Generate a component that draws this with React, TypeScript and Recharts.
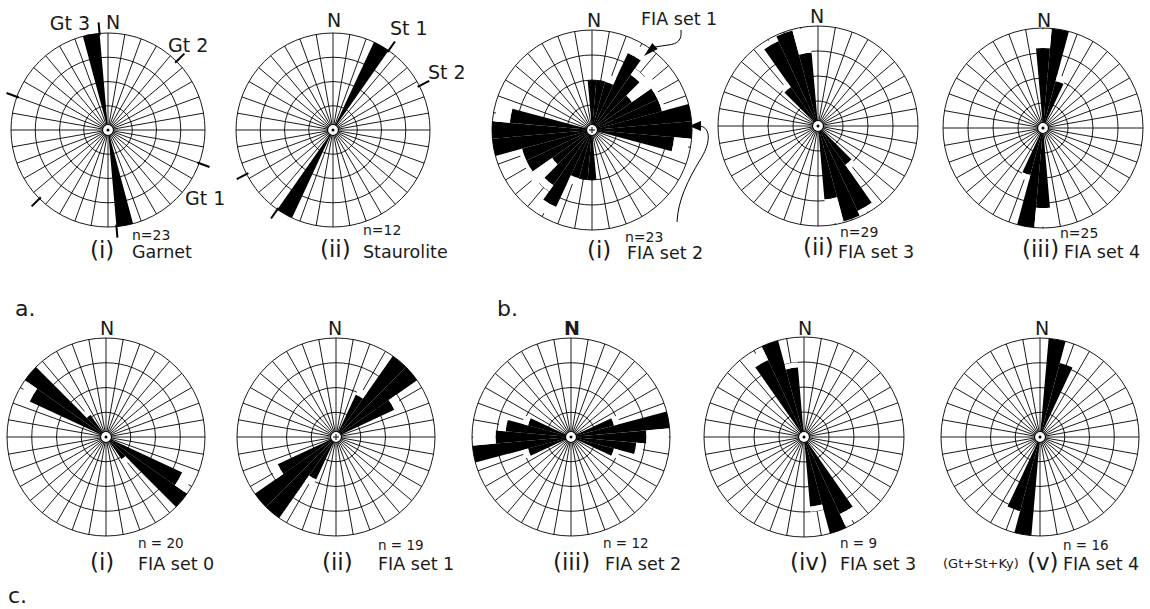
import { PolarAngleAxis, PolarGrid, PolarRadiusAxis, RadialBar, RadialBarChart } from 'recharts'

// bin starts in degrees from N; the data is axial, so every bin is repeated at +180
const binStarts = [0, 10, 20, 30, 40, 50, 60, 70, 80, 90, 100, 110, 120, 130, 140, 150, 160, 170]

// bar lengths in ring units (the grid has 4 rings)
const garnet = [0, 0, 0, 0, 0, 0, 0, 0, 0, 0, 0, 0, 0, 0, 0, 0, 0, 4.1]
const staurolite = [0, 0, 0, 4.05, 0, 0, 0, 0, 0, 0, 0, 0, 0, 0, 0, 0, 0, 0]
const fiaB2 = [2.0, 2.0, 2.0, 3.4, 2.7, 1.95, 2.9, 2.9, 4.0, 4.0, 3.3, 0, 0, 0, 0, 0, 0, 0]
const fiaB3 = [0, 0, 0, 0, 0, 0, 0, 0, 0, 0, 0, 0, 0, 0, 1.9, 3.75, 3.95, 2.95]
const fiaB4 = [3.2, 4.0, 1.95, 0, 0, 0, 0, 0, 0, 0, 0, 0, 0, 0, 0, 0, 0, 0]
const fiaC0 = [0, 0, 0, 0, 0, 0, 0, 0, 0, 0, 0, 0, 3.4, 4.0, 1.1, 0, 0, 0]
const fiaC1 = [0, 0, 0, 1.9, 4.0, 4.0, 2.6, 0, 0, 0, 0, 0, 0, 0, 0, 0, 0, 0]
const fiaC2 = [0, 0, 0, 0, 0, 0, 0, 1.8, 4.0, 3.05, 2.65, 1.8, 0, 0, 0, 0, 0, 0]
const fiaC3 = [0, 0, 0, 0, 0, 0, 0, 0, 0, 0, 0, 0, 0, 0, 0, 3.4, 4.0, 2.8]
const fiaC4 = [0, 4.0, 3.1, 0, 0, 0, 0, 0, 0, 0, 0, 0, 0, 0, 0, 0, 0, 0]

// outer edge of the white gap drawn above some bars (0 = none)
const gapB2 = [0, 0, 2.3, 3.85, 3.0, 3.15, 3.05, 3.05, 0, 0, 3.9, 0, 0, 0, 0, 0, 0, 0]
const gapB3 = [0, 0, 0, 0, 0, 0, 0, 0, 0, 0, 0, 0, 0, 0, 2.15, 3.95, 0, 3.95]
const gapB4 = [3.95, 0, 2.2, 0, 0, 0, 0, 0, 0, 0, 0, 0, 0, 0, 0, 0, 0, 0]
const gapC0 = [0, 0, 0, 0, 0, 0, 0, 0, 0, 0, 0, 0, 3.85, 0, 1.35, 0, 0, 0]
const gapC1 = [0, 0, 0, 2.2, 0, 0, 2.95, 0, 0, 0, 0, 0, 0, 0, 0, 0, 0, 0]
const gapC2 = [0, 0, 0, 0, 0, 0, 0, 2.05, 0, 3.95, 2.95, 2.05, 0, 0, 0, 0, 0, 0]
const gapC3 = [0, 0, 0, 0, 0, 0, 0, 0, 0, 0, 0, 0, 0, 0, 0, 3.85, 0, 3.0]

// trend marks outside the garnet and staurolite roses (bearings)
const garnetTrends = [110, 290, 45, 225, 355, 175]
const stauroliteTrends = [35, 215, 63, 243]

type Rose = {
  cx: number
  cy: number
  r: number
  bars: number[]
  gaps?: number[]
  trends?: number[]
  plus?: boolean
}

const roses: Rose[] = [
  { cx: 108, cy: 130, r: 97, bars: garnet, trends: garnetTrends },
  { cx: 333, cy: 130, r: 97, bars: staurolite, trends: stauroliteTrends },
  { cx: 592, cy: 130, r: 100, bars: fiaB2, gaps: gapB2, plus: true },
  { cx: 818, cy: 126, r: 100, bars: fiaB3, gaps: gapB3 },
  { cx: 1043, cy: 128, r: 100, bars: fiaB4, gaps: gapB4 },
  { cx: 106, cy: 437, r: 99, bars: fiaC0, gaps: gapC0 },
  { cx: 336, cy: 437, r: 99, bars: fiaC1, gaps: gapC1, plus: true },
  { cx: 571, cy: 437, r: 99, bars: fiaC2, gaps: gapC2 },
  { cx: 804, cy: 437, r: 100, bars: fiaC3, gaps: gapC3 },
  { cx: 1040, cy: 437, r: 99, bars: fiaC4 },
]

function buildRows(bars: number[], gaps?: number[]) {
  const rows: { dir: number; len: number; gap: number }[] = []
  for (const half of [0, 180]) {
    binStarts.forEach((b, i) => {
      const top = gaps ? gaps[i] : 0
      rows.push({ dir: b + half, len: bars[i], gap: Math.max(0, top - bars[i]) })
    })
  }
  return rows
}

const SIZE = 240
const noMargin = { top: 0, right: 0, bottom: 0, left: 0 }

function RoseChart({ rose }: { rose: Rose }) {
  const c = SIZE / 2
  const data = buildRows(rose.bars, rose.gaps)
  const spokes = data.map((d) => 90 - d.dir)
  const rings = [0.25, 0.5, 0.75, 1].map((f) => f * rose.r)
  const pos = { position: 'absolute' as const, left: rose.cx - c, top: rose.cy - c }
  return (
    <>
      <div style={pos}>
        {/* the band scale centres each bar on its tick, so the angle range is turned half a bin */}
        <RadialBarChart
          width={SIZE}
          height={SIZE}
          data={data}
          layout="centric"
          cx={c}
          cy={c}
          innerRadius={0}
          outerRadius={rose.r}
          startAngle={85}
          endAngle={-275}
          barCategoryGap={0}
          barGap={0}
          margin={noMargin}
        >
          <PolarGrid gridType="circle" polarAngles={spokes} polarRadius={rings} stroke="#000" strokeWidth={0.9} />
          <PolarAngleAxis type="category" dataKey="dir" tick={false} axisLine={false} tickLine={false} />
          <PolarRadiusAxis type="number" domain={[0, 4]} allowDataOverflow tick={false} axisLine={false} tickLine={false} />
          <RadialBar dataKey="len" stackId="rose" fill="#000" isAnimationActive={false} />
          <RadialBar dataKey="gap" stackId="rose" fill="#fff" isAnimationActive={false} />
        </RadialBarChart>
      </div>
      {rose.trends && (
        <div style={pos}>
          <RadialBarChart
            width={SIZE}
            height={SIZE}
            data={data}
            layout="centric"
            cx={c}
            cy={c}
            innerRadius={rose.r - 2}
            outerRadius={rose.r + 11}
            startAngle={90}
            endAngle={-270}
            margin={noMargin}
          >
            <PolarGrid gridType="circle" polarAngles={rose.trends.map((t) => 90 - t)} polarRadius={[]} stroke="#000" strokeWidth={2} />
            <PolarAngleAxis type="category" dataKey="dir" tick={false} axisLine={false} tickLine={false} />
            <PolarRadiusAxis type="number" domain={[0, 4]} tick={false} axisLine={false} tickLine={false} />
          </RadialBarChart>
        </div>
      )}
    </>
  )
}

const label = { fontFamily: 'DejaVu Sans', fill: '#1a1a1a' }

export default function App() {
  return (
    <div style={{ position: 'absolute', left: 0, top: 0, width: 1150, height: 609, background: '#fff' }}>
      {roses.map((r, i) => (
        <RoseChart key={i} rose={r} />
      ))}
      <svg width={1150} height={609} style={{ position: 'absolute', left: 0, top: 0 }}>
        {roses.map((r, i) => (
          <g key={i}>
            <circle cx={r.cx} cy={r.cy} r={5.5} fill="#fff" stroke="#000" strokeWidth={1.2} />
            {r.plus ? (
              <path d={`M${r.cx - 3} ${r.cy}H${r.cx + 3}M${r.cx} ${r.cy - 3}V${r.cy + 3}`} stroke="#000" strokeWidth={1} />
            ) : (
              <circle cx={r.cx} cy={r.cy} r={1.5} fill="#000" />
            )}
          </g>
        ))}

        <g {...label} fontSize={19} textAnchor="middle">
          <text x={113} y={29}>N</text>
          <text x={334} y={27}>N</text>
          <text x={594} y={27}>N</text>
          <text x={817} y={23}>N</text>
          <text x={1044} y={27}>N</text>
          <text x={107} y={335}>N</text>
          <text x={335} y={335}>N</text>
          <text x={572} y={335} fontWeight="bold">N</text>
          <text x={805} y={335}>N</text>
          <text x={1042} y={335}>N</text>
        </g>

        <g {...label} fontSize={19}>
          <text x={90} y={30} textAnchor="end">Gt 3</text>
          <text x={168} y={52}>Gt 2</text>
          <text x={185} y={205}>Gt 1</text>
          <text x={390} y={35}>St 1</text>
          <text x={428} y={79}>St 2</text>
          <text x={641} y={25} fontSize={17.5}>FIA set 1</text>
        </g>

        <g {...label} fontSize={14}>
          <text x={132} y={240}>n=23</text>
          <text x={363} y={235}>n=12</text>
          <text x={625} y={242}>n=23</text>
          <text x={840} y={237}>n=29</text>
          <text x={1060} y={238}>n=25</text>
          <text x={138} y={548} fontSize={13.5}>n = 20</text>
          <text x={378} y={550} fontSize={13.5}>n = 19</text>
          <text x={603} y={548} fontSize={13.5}>n = 12</text>
          <text x={840} y={548} fontSize={13.5}>n = 9</text>
          <text x={1063} y={550} fontSize={13.5}>n = 16</text>
        </g>

        <g {...label} fontSize={23}>
          <text x={90} y={258}>(i)</text>
          <text x={320} y={257}>(ii)</text>
          <text x={587} y={258}>(i)</text>
          <text x={803} y={255}>(ii)</text>
          <text x={1022} y={257}>(iii)</text>
          <text x={90} y={570}>(i)</text>
          <text x={322} y={570}>(ii)</text>
          <text x={553} y={570}>(iii)</text>
          <text x={790} y={570}>(iv)</text>
          <text x={1027} y={570}>(v)</text>
        </g>

        <g {...label} fontSize={17.5}>
          <text x={132} y={258}>Garnet</text>
          <text x={363} y={258}>Staurolite</text>
          <text x={627} y={259}>FIA set 2</text>
          <text x={838} y={258}>FIA set 3</text>
          <text x={1064} y={258}>FIA set 4</text>
          <text x={138} y={570}>FIA set 0</text>
          <text x={378} y={570}>FIA set 1</text>
          <text x={605} y={570}>FIA set 2</text>
          <text x={840} y={570}>FIA set 3</text>
          <text x={1063} y={570}>FIA set 4</text>
          <text x={943} y={568} fontSize={13}>(Gt+St+Ky)</text>
        </g>

        <g {...label} fontSize={22}>
          <text x={15} y={316}>a.</text>
          <text x={497} y={316}>b.</text>
          <text x={8} y={603}>c.</text>
        </g>

        <path d="M681 30 C682 40, 678 44, 668 45 L655 47" fill="none" stroke="#000" strokeWidth={1} />
        <path d="M644 56 L657.7 49 L652.3 43 Z" fill="#000" />
        <path d="M700 126 C712 128, 710 145, 700 160 C688 180, 678 200, 677 222" fill="none" stroke="#000" strokeWidth={1} />
        <path d="M689 126 L701 121 L701 131 Z" fill="#000" />
      </svg>
    </div>
  )
}
